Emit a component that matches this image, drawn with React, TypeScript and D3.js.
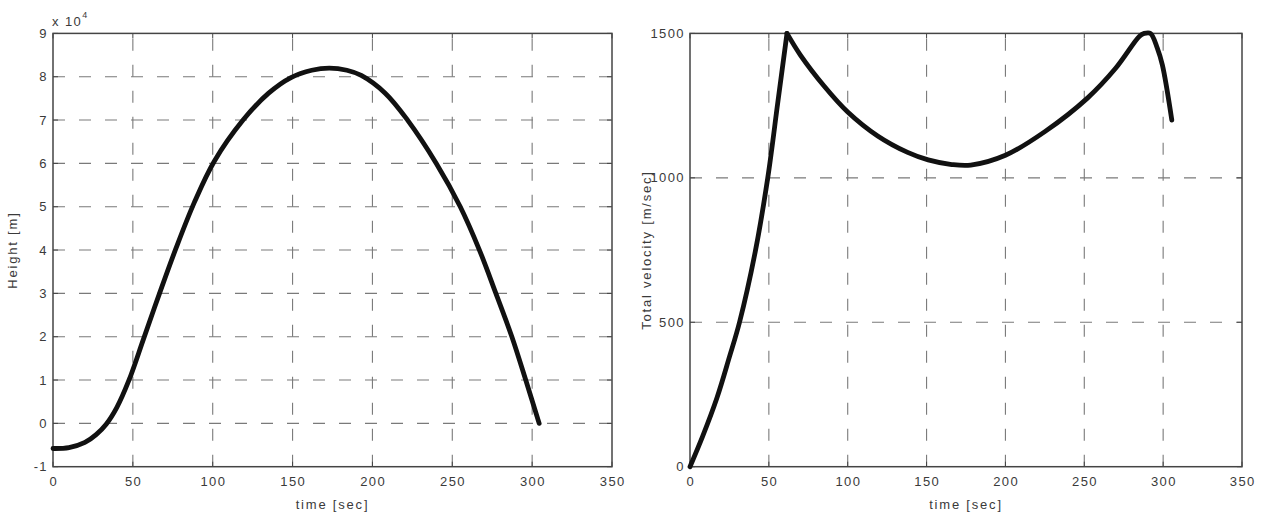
import React from "react";
import * as d3 from "d3";

// ---------- data ----------
const ticksTime = [0, 50, 100, 150, 200, 250, 300, 350];
const ticksHeight = [-1, 0, 1, 2, 3, 4, 5, 6, 7, 8, 9];
const ticksVelocity = [0, 500, 1000, 1500];

// Height in units of 10^4 m
const heightTime = [0, 10, 20, 27, 33.3, 40, 47.5, 56.7, 66.7, 77.1, 88.5, 101, 119, 135, 149, 162, 173, 184, 193, 208, 222, 240, 255, 267, 277.3, 287.3, 296, 304.4];
const heightValue = [-0.58, -0.56, -0.44, -0.26, -0.02, 0.37, 0.99, 1.95, 3.0, 4.05, 5.1, 6.05, 7.0, 7.62, 7.98, 8.15, 8.2, 8.15, 8.03, 7.62, 7.0, 6.0, 5.0, 4.0, 3.0, 2.0, 1.0, 0];

// Total velocity [m/sec], two branches (boost then coast)
const velTimeA = [0, 8, 17, 25, 31.4, 41.4, 49.3, 55.6, 61.5];
const velValueA = [0, 105, 237, 380, 500, 745, 1000, 1258, 1500];
const velTimeB = [61.5, 70, 85, 100, 119, 138, 151, 166, 178, 200, 225, 252, 270, 285, 288, 292, 296.3, 299.5, 305.5];
const velValueB = [1500, 1425, 1318, 1228, 1145, 1088, 1062, 1046, 1044, 1078, 1160, 1276, 1380, 1490, 1500, 1500, 1449, 1391, 1200];

const FONT = "'Liberation Sans', Arial, Helvetica, sans-serif";
const TXT = "#3a3a3a";
const FS = 13;
const LS = 1.4;

type Pt = [number, number];
const zip = (a: number[], b: number[]): Pt[] => a.map((v, i) => [v, b[i]]);

interface PanelProps {
  x: d3.ScaleLinear<number, number>;
  y: d3.ScaleLinear<number, number>;
  xTicks: number[];
  yTicks: number[];
  series: Pt[][];
  yLabel: string;
  yLabelX: number;
}

function Panel({ x, y, xTicks, yTicks, series, yLabel, yLabelX }: PanelProps) {
  const [x0, x1] = x.range();
  const [y0, y1] = y.range(); // y0 bottom, y1 top
  const line = d3
    .line<Pt>()
    .x((d) => x(d[0]))
    .y((d) => y(d[1]))
    .curve(d3.curveCatmullRom.alpha(0.5));
  const innerX = xTicks.slice(1, -1);
  const innerY = yTicks.slice(1, -1);
  const tl = 5;
  return (
    <g>
      {/* grid */}
      {innerX.map((t) => (
        <line key={"gx" + t} x1={x(t)} x2={x(t)} y1={y0} y2={y1} stroke="#7a7a7a" strokeWidth={1.1} strokeDasharray="12,14" />
      ))}
      {innerY.map((t) => (
        <line key={"gy" + t} x1={x0} x2={x1} y1={y(t)} y2={y(t)} stroke="#7a7a7a" strokeWidth={1.1} strokeDasharray="12,14" />
      ))}
      {/* ticks */}
      {xTicks.map((t) => (
        <g key={"tx" + t}>
          <line x1={x(t)} x2={x(t)} y1={y0} y2={y0 - tl} stroke="#444" />
          <line x1={x(t)} x2={x(t)} y1={y1} y2={y1 + tl} stroke="#444" />
          <text x={x(t) + LS / 2} y={y0 + 19} textAnchor="middle" fontSize={FS} letterSpacing={LS} fontFamily={FONT} fill={TXT}>
            {t}
          </text>
        </g>
      ))}
      {yTicks.map((t) => (
        <g key={"ty" + t}>
          <line x1={x0} x2={x0 + tl} y1={y(t)} y2={y(t)} stroke="#444" />
          <line x1={x1} x2={x1 - tl} y1={y(t)} y2={y(t)} stroke="#444" />
          <text x={x0 - 5} y={y(t) + 4.5} textAnchor="end" fontSize={FS} letterSpacing={LS} fontFamily={FONT} fill={TXT}>
            {t}
          </text>
        </g>
      ))}
      {/* box */}
      <rect x={x0} y={y1} width={x1 - x0} height={y0 - y1} fill="none" stroke="#444" strokeWidth={1.5} />
      {/* curves */}
      {series.map((s, i) => (
        <path key={i} d={line(s) || ""} fill="none" stroke="#111" strokeWidth={4.8} strokeLinejoin="round" strokeLinecap="round" />
      ))}
      {/* labels */}
      <text x={(x0 + x1) / 2} y={509} textAnchor="middle" fontSize={FS} letterSpacing={1.8} fontFamily={FONT} fill={TXT}>
        time [sec]
      </text>
      <text
        transform={`translate(${yLabelX},${(y0 + y1) / 2}) rotate(-90)`}
        textAnchor="middle"
        fontSize={FS}
        letterSpacing={1.8}
        fontFamily={FONT}
        fill={TXT}
      >
        {yLabel}
      </text>
    </g>
  );
}

export default function App() {
  const W = 1261;
  const H = 515;
  const top = 33.4;
  const bottom = 466.7;

  const xL = d3.scaleLinear().domain([0, 350]).range([53, 612]);
  const yL = d3.scaleLinear().domain([-1, 9]).range([bottom, top]);
  const xR = d3.scaleLinear().domain([0, 350]).range([690, 1242]);
  const yR = d3.scaleLinear().domain([0, 1500]).range([bottom, top]);

  return (
    <div style={{ position: "absolute", left: 0, top: 0 }}>
      <svg width={W} height={H} style={{ display: "block", background: "#fff" }}>
        <Panel
          x={xL}
          y={yL}
          xTicks={ticksTime}
          yTicks={ticksHeight}
          series={[zip(heightTime, heightValue)]}
          yLabel="Height [m]"
          yLabelX={17}
        />
        <text x={52} y={26} fontSize={FS} letterSpacing={LS} fontFamily={FONT} fill={TXT}>
          x 10
          <tspan dy={-8} fontSize={9}>4</tspan>
        </text>
        <Panel
          x={xR}
          y={yR}
          xTicks={ticksTime}
          yTicks={ticksVelocity}
          series={[zip(velTimeA, velValueA), zip(velTimeB, velValueB)]}
          yLabel="Total velocity [m/sec]"
          yLabelX={651}
        />
      </svg>
    </div>
  );
}
